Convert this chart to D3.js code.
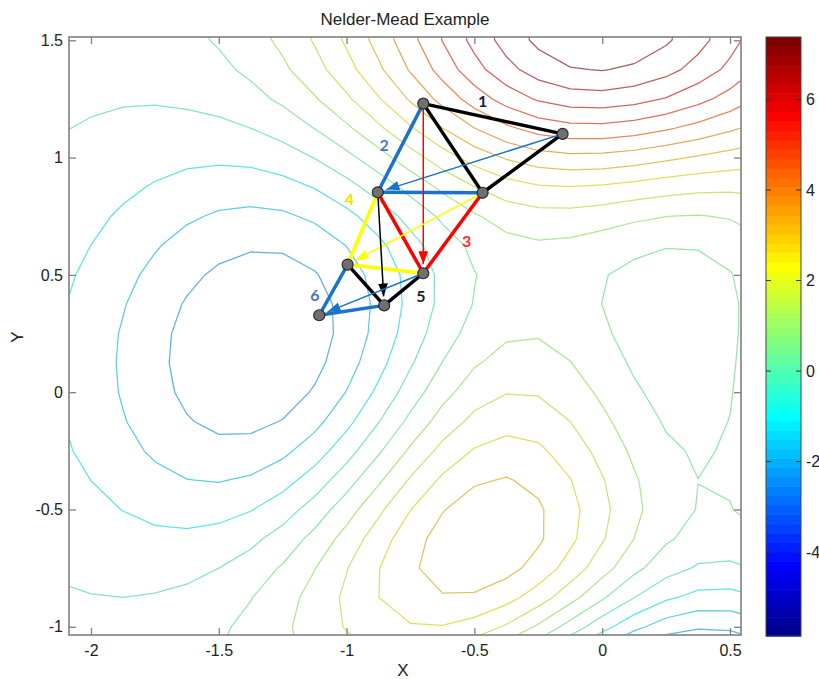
<!DOCTYPE html>
<meta charset="utf-8">
<style>
body { margin: 0; background: #fff; }
text { font-family: "Liberation Sans", Arial, sans-serif; fill: #222; }
.axis path { display: none; }
.axis line { stroke: #808080; stroke-width: 1.3px; }
.axis text { font-size: 16px; }
.contours path { fill: none; stroke-width: 1.25px; stroke-opacity: 0.75; }
.cbar text { font-size: 16px; }
.step-label { font-family: Lato, "Open Sans", sans-serif; font-weight: bold; font-size: 16px; }
</style>
<svg width="819" height="679"></svg>
<script src="https://d3js.org/d3.v7.min.js"></script>
<script>

// ---- data ----
var xTicks = [-2, -1.5, -1, -0.5, 0, 0.5];
var yTicks = [-1, -0.5, 0, 0.5, 1, 1.5];
var cbarTicks = [-4, -2, 0, 2, 4, 6];

// 20 contour levels (also the colour bar limits)
var levels = [-5.8503, -5.1540, -4.4578, -3.7615, -3.0652, -2.3689, -1.6727, -0.9764, -0.2801, 0.4161,
  1.1124, 1.8087, 2.5050, 3.2012, 3.8975, 4.5938, 5.2900, 5.9863, 6.6826, 7.3789];

// surface samples (value x 100), rows from y = 1.625 down by 0.125, columns from x = -2.125 by 0.125
var gridX0 = -2.125, gridY0 = 1.625, gridStep = 0.125;
var zRows = [
  [1, 4, 10, 20, 36, 60, 95, 142, 202, 274, 358, 448, 540, 627, 702, 761, 796, 808, 793, 756, 700, 631, 552],
  [-3, -1, 3, 11, 25, 48, 81, 127, 187, 261, 345, 437, 531, 620, 696, 754, 789, 800, 785, 748, 693, 625, 550],
  [-8, -9, -8, -3, 7, 26, 56, 98, 155, 225, 307, 397, 487, 573, 646, 701, 733, 741, 726, 692, 641, 581, 514],
  [-16, -20, -23, -23, -17, -5, 19, 55, 105, 169, 245, 329, 413, 492, 558, 607, 634, 639, 624, 594, 551, 502, 449],
  [-25, -33, -41, -47, -48, -43, -28, 0, 43, 99, 168, 243, 319, 389, 446, 486, 507, 508, 494, 468, 436, 401, 366],
  [-36, -48, -61, -74, -83, -86, -80, -60, -26, 23, 83, 151, 218, 279, 327, 359, 372, 369, 355, 334, 313, 293, 278],
  [-47, -65, -84, -103, -121, -132, -133, -121, -94, -51, 3, 65, 126, 180, 220, 243, 249, 242, 227, 211, 199, 195, 199],
  [-60, -82, -107, -133, -157, -176, -184, -178, -155, -116, -64, -5, 54, 104, 139, 155, 155, 142, 125, 112, 108, 117, 137],
  [-71, -98, -128, -161, -192, -216, -229, -227, -206, -166, -113, -52, 8, 57, 89, 101, 95, 78, 58, 45, 47, 65, 99],
  [-82, -112, -148, -185, -221, -249, -265, -264, -242, -200, -142, -76, -12, 39, 71, 80, 69, 46, 23, 9, 13, 38, 80],
  [-90, -124, -163, -204, -243, -274, -291, -288, -263, -216, -151, -79, -10, 45, 77, 84, 69, 41, 13, -4, 0, 28, 77],
  [-96, -132, -173, -216, -256, -287, -303, -298, -268, -215, -144, -65, 10, 68, 101, 106, 86, 52, 18, -3, -1, 28, 80],
  [-99, -135, -176, -219, -259, -289, -302, -292, -257, -198, -121, -36, 43, 104, 136, 137, 113, 73, 32, 6, 5, 32, 85],
  [-98, -133, -173, -214, -251, -277, -286, -271, -230, -165, -83, 6, 88, 148, 178, 175, 145, 98, 51, 19, 13, 37, 89],
  [-93, -126, -163, -200, -232, -253, -255, -234, -188, -117, -31, 60, 141, 200, 226, 218, 181, 127, 74, 35, 23, 43, 90],
  [-85, -114, -146, -178, -203, -216, -211, -184, -131, -57, 32, 123, 202, 256, 277, 263, 219, 158, 98, 53, 34, 48, 89],
  [-74, -98, -124, -149, -166, -171, -158, -123, -66, 12, 100, 189, 263, 311, 325, 303, 253, 186, 119, 67, 42, 48, 83],
  [-61, -80, -99, -116, -125, -121, -101, -60, 2, 80, 166, 249, 316, 355, 360, 330, 273, 200, 127, 70, 39, 39, 67],
  [-47, -61, -73, -82, -83, -72, -45, 0, 63, 138, 218, 292, 348, 376, 370, 331, 266, 188, 111, 51, 16, 11, 34],
  [-34, -42, -49, -51, -45, -28, 3, 49, 109, 178, 248, 309, 350, 363, 344, 294, 222, 140, 61, 0, -36, -41, -20],
  [-22, -26, -28, -24, -14, 7, 39, 83, 136, 194, 250, 293, 315, 311, 276, 216, 137, 51, -27, -86, -118, -121, -97],
  [-12, -13, -11, -4, 9, 30, 60, 98, 142, 186, 223, 245, 247, 222, 172, 100, 14, -72, -148, -202, -227, -222, -192],
  [-5, -3, 1, 9, 23, 42, 68, 97, 128, 155, 172, 173, 153, 109, 43, -40, -130, -216, -287, -333, -348, -334, -294]
];

// simplex vertices
var vertexX = [-0.700, -0.155, -0.468, -0.878, -0.700, -0.996, -0.853, -1.107];
var vertexY = [1.230, 1.101, 0.850, 0.852, 0.507, 0.544, 0.370, 0.328];

// [from, to, step] thick edges of each simplex
var edges = [[0, 1, 1], [1, 2, 1], [2, 0, 1],
  [0, 3, 2], [3, 2, 2],
  [3, 4, 3], [2, 4, 3],
  [3, 5, 4], [5, 4, 4],
  [5, 6, 5], [6, 4, 5],
  [5, 7, 6], [7, 6, 6]];

// [from, to, step] thin moves
var moves = [[1, 3, 2], [0, 4, 3], [2, 5, 4], [3, 6, 5], [4, 7, 6]];

// step labels
var stepLabels = ["1", "2", "3", "4", "5", "6"];
var labelX = [-0.468, -0.853, -0.530, -0.989, -0.709, -1.124];
var labelY = [1.240, 1.054, 0.644, 0.823, 0.407, 0.414];

// ---- styles ----
var stepColor = {1: "#000000", 2: "#1a73c8", 3: "#ff0000", 4: "#ffff00", 5: "#000000", 6: "#1a73c8"};
var labelColor = ["#1c1c3a", "#4f72c6", "#ff2a2a", "#efe200", "#1c1c2a", "#4f72c6"];

var svg = d3.select("svg");
var plotL = 69, plotR = 741, plotT = 37, plotB = 635;

var x = d3.scaleLinear().domain([-2.086, 0.543]).range([plotL, plotR]);
var y = d3.scaleLinear().domain([-1.035, 1.514]).range([plotB, plotT]);

var jet = d3.scaleLinear()
  .domain([0, 0.111, 0.365, 0.619, 0.873, 1])
  .range(["#00008f", "#0000ff", "#00ffff", "#ffff00", "#ff0000", "#800000"]);

// contour lines look washed out in the original, so pull them toward grey
function levelColor(v) {
  var k = Math.round((v - levels[0]) / (levels[levels.length - 1] - levels[0]) * 63);
  return d3.interpolateRgb(jet(k / 63), "#888888")(0.3);
}

svg.append("defs").append("clipPath").attr("id", "plotclip")
  .append("rect").attr("x", plotL).attr("y", plotT)
  .attr("width", plotR - plotL).attr("height", plotB - plotT);

// ---- contours ----
var nx = zRows[0].length, ny = zRows.length;
var values = [];
zRows.forEach(function(row) { row.forEach(function(v) { values.push(v / 100); }); });

var contours = d3.contours().size([nx, ny]).thresholds(levels)(values);

var toPlot = d3.geoTransform({
  point: function(gx, gy) {
    this.stream.point(x(gridX0 + (gx - 0.5) * gridStep), y(gridY0 - (gy - 0.5) * gridStep));
  }
});

svg.append("g")
  .attr("class", "contours")
  .attr("clip-path", "url(#plotclip)")
  .selectAll("path")
  .data(contours)
  .enter().append("path")
  .attr("d", d3.geoPath(toPlot))
  .attr("stroke", function(d) { return levelColor(d.value); });

// ---- axes ----
svg.append("g").attr("class", "axis")
  .attr("transform", "translate(0," + plotB + ")")
  .call(d3.axisBottom(x).tickValues(xTicks).tickFormat(String).tickSize(-7).tickPadding(10));
svg.append("g").attr("class", "axis")
  .attr("transform", "translate(0," + plotT + ")")
  .call(d3.axisTop(x).tickValues(xTicks).tickFormat("").tickSize(-7));
svg.append("g").attr("class", "axis")
  .attr("transform", "translate(" + plotL + ",0)")
  .call(d3.axisLeft(y).tickValues(yTicks).tickFormat(String).tickSize(-7).tickPadding(6));
svg.append("g").attr("class", "axis")
  .attr("transform", "translate(" + plotR + ",0)")
  .call(d3.axisRight(y).tickValues(yTicks).tickFormat("").tickSize(-7));

svg.append("rect")
  .attr("x", plotL).attr("y", plotT)
  .attr("width", plotR - plotL).attr("height", plotB - plotT)
  .attr("fill", "none").attr("stroke", "#808080").attr("stroke-width", 1.6);

svg.append("text").attr("x", 405).attr("y", 25)
  .attr("text-anchor", "middle").style("font-size", "17px")
  .text("Nelder-Mead Example");
svg.append("text").attr("x", 403).attr("y", 676)
  .attr("text-anchor", "middle").style("font-size", "17px")
  .text("X");
svg.append("text").attr("transform", "translate(23,337) rotate(-90)")
  .attr("text-anchor", "middle").style("font-size", "17px")
  .text("Y");

// ---- colour bar ----
var cbL = 766, cbW = 35;
var cb = d3.scaleLinear().domain([levels[0], levels[levels.length - 1]]).range([636, 37]);
var nBands = 64;
var bandSpan = (cb.domain()[1] - cb.domain()[0]) / nBands;

var cbar = svg.append("g").attr("class", "cbar");
cbar.selectAll("rect.band")
  .data(d3.range(nBands))
  .enter().append("rect")
  .attr("class", "band")
  .attr("x", cbL).attr("width", cbW)
  .attr("y", function(k) { return cb(cb.domain()[0] + (k + 1) * bandSpan); })
  .attr("height", function(k) { return cb(cb.domain()[0] + k * bandSpan) - cb(cb.domain()[0] + (k + 1) * bandSpan) + 0.6; })
  .attr("fill", function(k) { return jet(k / (nBands - 1)); });

cbar.append("rect")
  .attr("x", cbL).attr("y", 37).attr("width", cbW).attr("height", 599)
  .attr("fill", "none").attr("stroke", "#444").attr("stroke-width", 1);

var cbt = cbar.selectAll("g.tick").data(cbarTicks).enter().append("g").attr("class", "tick");
cbt.append("line")
  .attr("x1", cbL).attr("x2", cbL + 5)
  .attr("y1", function(d) { return cb(d); }).attr("y2", function(d) { return cb(d); })
  .attr("stroke", "#333");
cbt.append("line")
  .attr("x1", cbL + cbW - 5).attr("x2", cbL + cbW)
  .attr("y1", function(d) { return cb(d); }).attr("y2", function(d) { return cb(d); })
  .attr("stroke", "#333");
cbt.append("text")
  .attr("x", cbL + cbW + 5)
  .attr("y", function(d) { return cb(d); })
  .attr("dy", "0.35em")
  .text(String);

// ---- simplex steps ----
var defs = svg.select("defs");
d3.range(1, 7).forEach(function(s) {
  defs.append("marker")
    .attr("id", "head" + s)
    .attr("viewBox", "0 -5 12 10")
    .attr("refX", 12).attr("refY", 0)
    .attr("markerUnits", "userSpaceOnUse")
    .attr("markerWidth", 13).attr("markerHeight", 11)
    .attr("orient", "auto")
    .append("path").attr("d", "M0,-4.5L12,0L0,4.5Z")
    .attr("fill", stepColor[s]);
});

var simplex = svg.append("g");

simplex.selectAll("line.edge")
  .data(edges)
  .enter().append("line")
  .attr("class", "edge")
  .attr("x1", function(d) { return x(vertexX[d[0]]); })
  .attr("y1", function(d) { return y(vertexY[d[0]]); })
  .attr("x2", function(d) { return x(vertexX[d[1]]); })
  .attr("y2", function(d) { return y(vertexY[d[1]]); })
  .attr("stroke", function(d) { return stepColor[d[2]]; })
  .attr("stroke-width", 3.5)
  .attr("stroke-linecap", "round");

// arrows stop a little short of the target vertex
var tipGap = 9;
simplex.selectAll("line.move")
  .data(moves)
  .enter().append("line")
  .attr("class", "move")
  .each(function(d) {
    var x1 = x(vertexX[d[0]]), y1 = y(vertexY[d[0]]);
    var x2 = x(vertexX[d[1]]), y2 = y(vertexY[d[1]]);
    var len = Math.sqrt((x2 - x1) * (x2 - x1) + (y2 - y1) * (y2 - y1));
    d3.select(this)
      .attr("x1", x1).attr("y1", y1)
      .attr("x2", x2 - (x2 - x1) / len * tipGap)
      .attr("y2", y2 - (y2 - y1) / len * tipGap);
  })
  .attr("stroke", function(d) { return stepColor[d[2]]; })
  .attr("stroke-width", 1.5)
  .attr("marker-end", function(d) { return "url(#head" + d[2] + ")"; });

simplex.selectAll("circle")
  .data(vertexX)
  .enter().append("circle")
  .attr("cx", function(d) { return x(d); })
  .attr("cy", function(d, i) { return y(vertexY[i]); })
  .attr("r", 5.5)
  .attr("fill", "#707070")
  .attr("stroke", "#2a2a2a")
  .attr("stroke-width", 1.2);

simplex.selectAll("text")
  .data(stepLabels)
  .enter().append("text")
  .attr("class", "step-label")
  .attr("x", function(d, i) { return x(labelX[i]); })
  .attr("y", function(d, i) { return y(labelY[i]); })
  .attr("dy", "0.35em")
  .attr("text-anchor", "middle")
  .style("fill", function(d, i) { return labelColor[i]; })
  .text(function(d) { return d; });

</script>
